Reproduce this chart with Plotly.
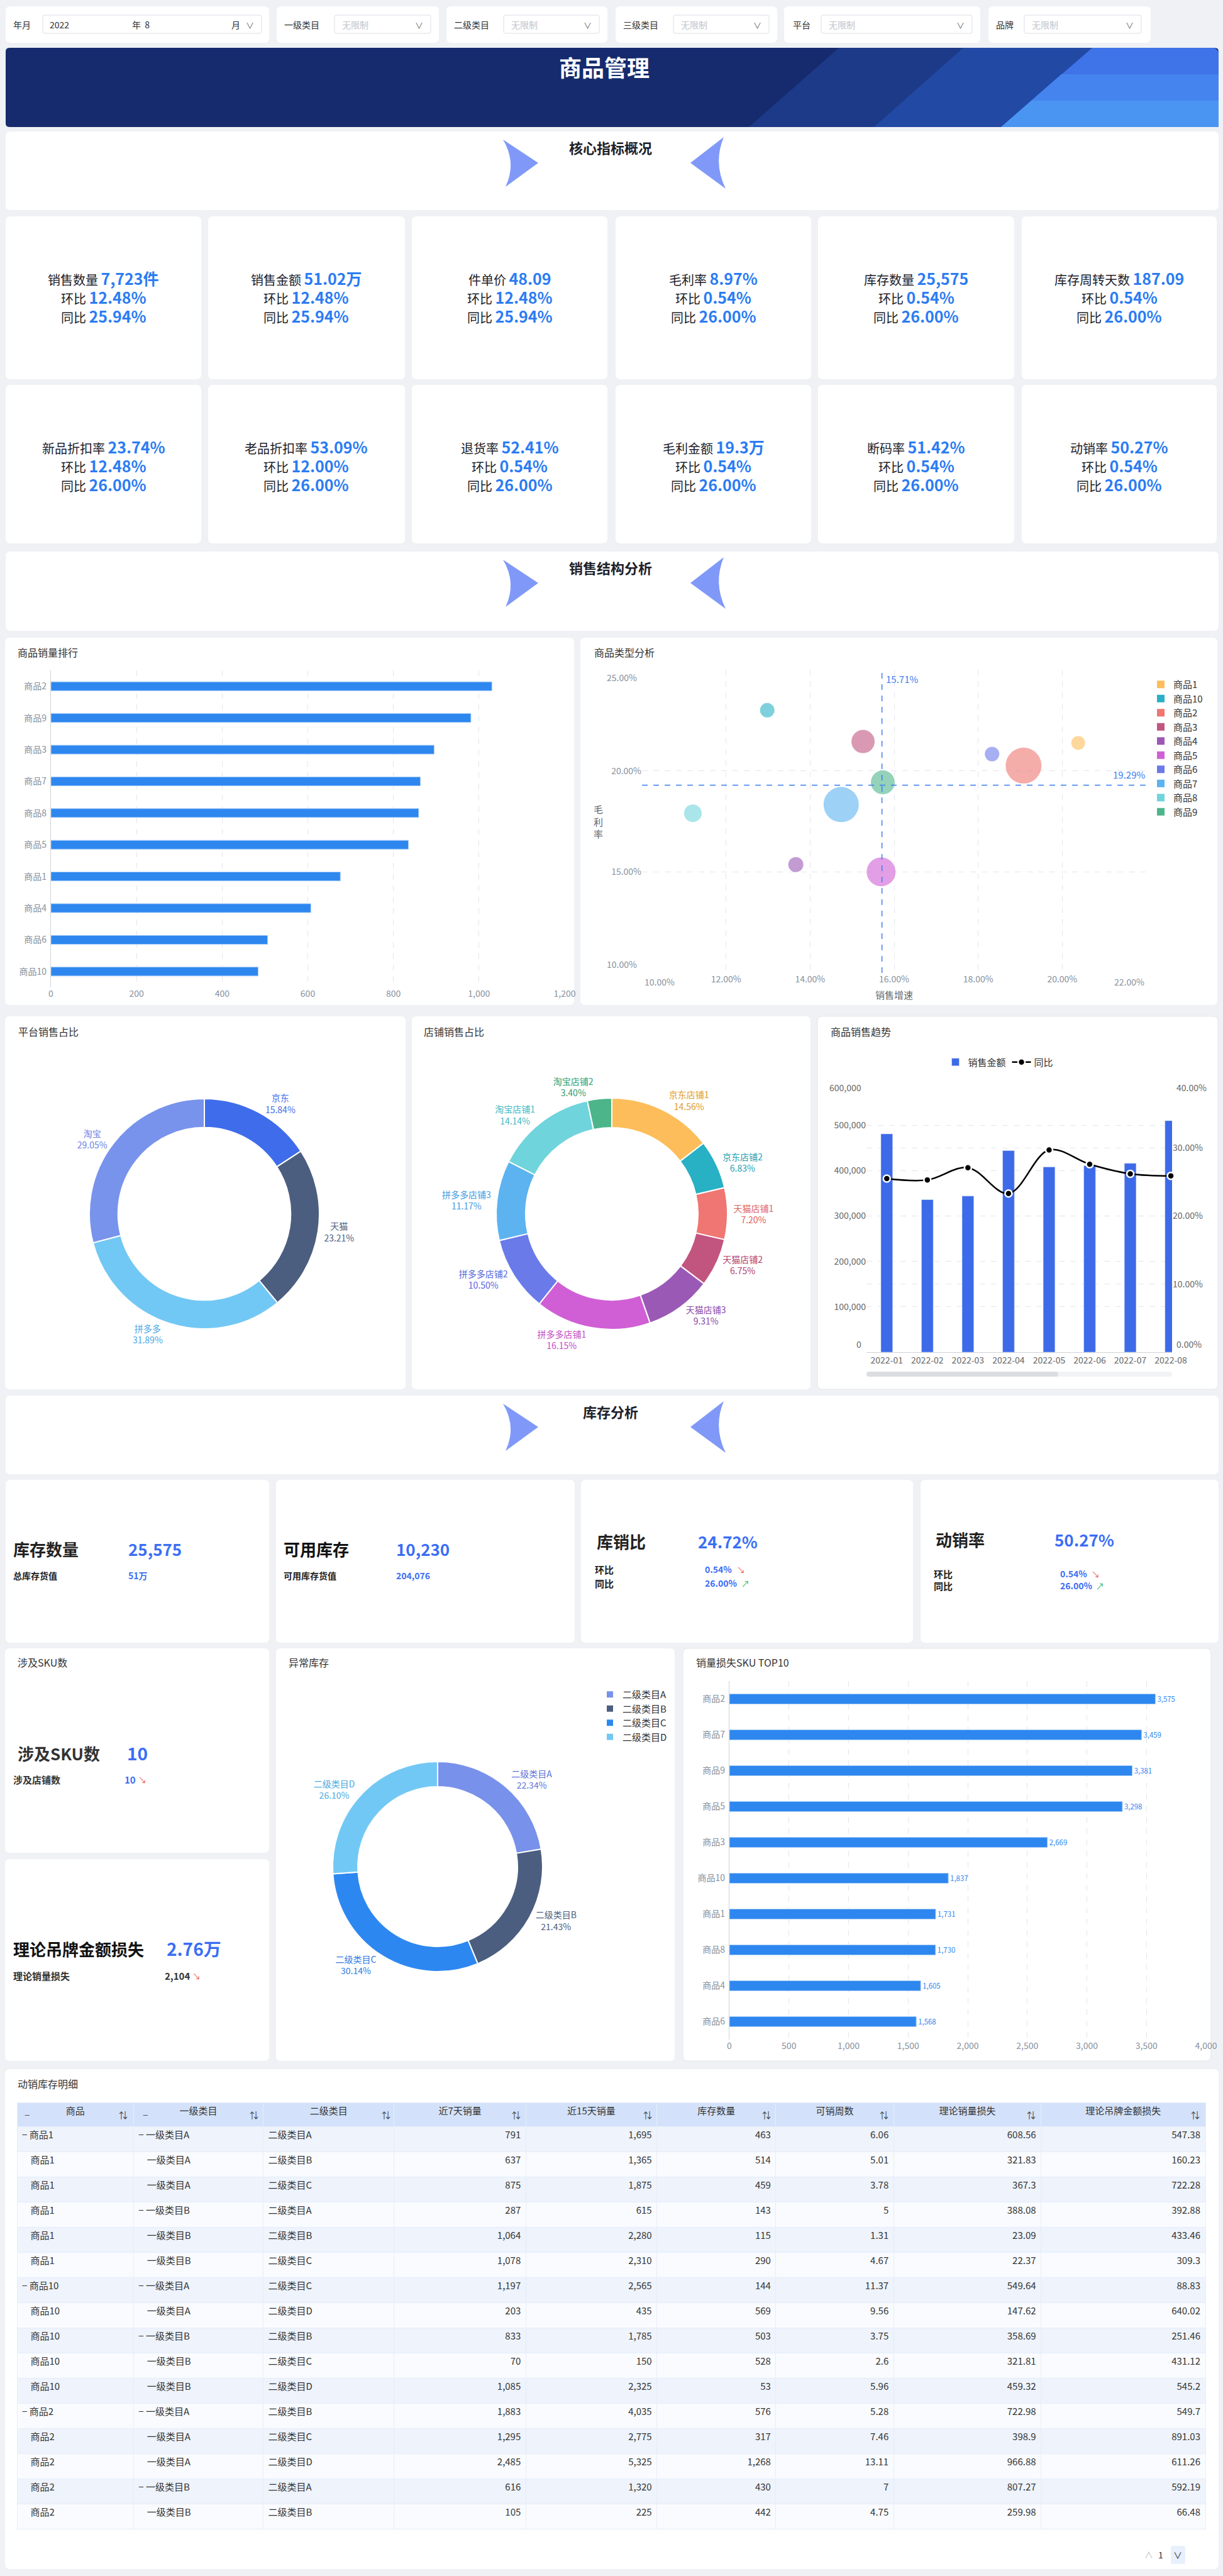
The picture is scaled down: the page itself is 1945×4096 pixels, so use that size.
import plotly.graph_objects as go

W, H = 1945, 4096
FONT = "Noto Sans CJK SC"
BG = "#eff1f5"
DARK = "#1d2129"
BLUE = "#2b7cf3"
BLUE2 = "#3b6ef5"
AXT = "#86909c"
GRID = "#e5e6eb"
PAL = ['#fdbd5a', '#28b0c4', '#ef7672', '#c2557f', '#9b59b6', '#d05fd5', '#6a7ae9', '#5cb3f0', '#6fd4db', '#4cb58a']

# ---------------- data ----------------
filter_labels = ["年月", "一级类目", "二级类目", "三级类目", "平台", "品牌"]
filter_placeholder = "无限制"
filter_year = "2022"
filter_month = "8"

kpi_names = ["销售数量", "销售金额", "件单价", "毛利率", "库存数量", "库存周转天数",
             "新品折扣率", "老品折扣率", "退货率", "毛利金额", "断码率", "动销率"]
kpi_values = ["7,723件", "51.02万", "48.09", "8.97%", "25,575", "187.09",
              "23.74%", "53.09%", "52.41%", "19.3万", "51.42%", "50.27%"]
kpi_mom = ["12.48%", "12.48%", "12.48%", "0.54%", "0.54%", "0.54%",
           "12.48%", "12.00%", "0.54%", "0.54%", "0.54%", "0.54%"]
kpi_yoy = ["25.94%", "25.94%", "25.94%", "26.00%", "26.00%", "26.00%",
           "26.00%", "26.00%", "26.00%", "26.00%", "26.00%", "26.00%"]

rank_products = ["商品2", "商品9", "商品3", "商品7", "商品8", "商品5", "商品1", "商品4", "商品6", "商品10"]
rank_sales = [1030, 981, 895, 863, 859, 835, 676, 607, 506, 484]
rank_ticks = [0, 200, 400, 600, 800, 1000, 1200]

bubble_products = ["商品1", "商品10", "商品2", "商品3", "商品4", "商品5", "商品6", "商品7", "商品8", "商品9"]
bubble_growth = [20.38, 12.98, 19.08, 15.26, 13.66, 15.69, 18.33, 14.74, 11.21, 15.73]
bubble_margin = [21.38, 23.00, 20.26, 21.45, 15.36, 15.00, 20.83, 18.33, 17.90, 19.43]
bubble_weight = [22, 23, 57, 37, 24, 46, 23, 56, 28, 38]
avg_growth = 15.71
avg_margin = 19.29
growth_ticks = [10, 12, 14, 16, 18, 20, 22]
margin_ticks = [10, 15, 20, 25]

platforms = ["京东", "天猫", "拼多多", "淘宝"]
platform_share = [15.84, 23.21, 31.89, 29.05]

shops = ["京东店铺1", "京东店铺2", "天猫店铺1", "天猫店铺2", "天猫店铺3",
         "拼多多店铺1", "拼多多店铺2", "拼多多店铺3", "淘宝店铺1", "淘宝店铺2"]
shop_share = [14.56, 6.83, 7.20, 6.75, 9.31, 16.15, 10.50, 11.17, 14.14, 3.40]

months = ["2022-01", "2022-02", "2022-03", "2022-04", "2022-05", "2022-06", "2022-07", "2022-08"]
month_sales = [481000, 336000, 344000, 444000, 408000, 411000, 416000, 510000]
month_yoy = [25.5, 25.3, 27.1, 23.3, 29.7, 27.6, 26.2, 25.9]
sales_ticks = [0, 100000, 200000, 300000, 400000, 500000, 600000]
yoy_ticks = [0, 10, 20, 30, 40]

abnormal_cats = ["二级类目A", "二级类目B", "二级类目C", "二级类目D"]
abnormal_share = [22.34, 21.43, 30.14, 26.10]

loss_products = ["商品2", "商品7", "商品9", "商品5", "商品3", "商品10", "商品1", "商品8", "商品4", "商品6"]
loss_qty = [3575, 3459, 3381, 3298, 2669, 1837, 1731, 1730, 1605, 1568]

tbl_headers = ["商品", "一级类目", "二级类目", "近7天销量", "近15天销量", "库存数量", "可销周数", "理论销量损失", "理论吊牌金额损失"]
tbl_product = ["商品1", "商品1", "商品1", "商品1", "商品1", "商品1", "商品10", "商品10", "商品10", "商品10", "商品10",
               "商品2", "商品2", "商品2", "商品2", "商品2"]
tbl_cat1 = ["一级类目A", "一级类目A", "一级类目A", "一级类目B", "一级类目B", "一级类目B", "一级类目A", "一级类目A",
            "一级类目B", "一级类目B", "一级类目B", "一级类目A", "一级类目A", "一级类目A", "一级类目B", "一级类目B"]
tbl_cat2 = ["二级类目A", "二级类目B", "二级类目C", "二级类目A", "二级类目B", "二级类目C", "二级类目C", "二级类目D",
            "二级类目B", "二级类目C", "二级类目D", "二级类目B", "二级类目C", "二级类目D", "二级类目A", "二级类目B"]
tbl_7d = [791, 637, 875, 287, 1064, 1078, 1197, 203, 833, 70, 1085, 1883, 1295, 2485, 616, 105]
tbl_15d = [1695, 1365, 1875, 615, 2280, 2310, 2565, 435, 1785, 150, 2325, 4035, 2775, 5325, 1320, 225]
tbl_stock = [463, 514, 459, 143, 115, 290, 144, 569, 503, 528, 53, 576, 317, 1268, 430, 442]
tbl_weeks = [6.06, 5.01, 3.78, 5, 1.31, 4.67, 11.37, 9.56, 3.75, 2.6, 5.96, 5.28, 7.46, 13.11, 7, 4.75]
tbl_loss_qty = [608.56, 321.83, 367.3, 388.08, 23.09, 22.37, 549.64, 147.62, 358.69, 321.81, 459.32, 722.98, 398.9, 966.88, 807.27, 259.98]
tbl_loss_amt = [547.38, 160.23, 722.28, 392.88, 433.46, 309.3, 88.83, 640.02, 251.46, 431.12, 545.2, 549.7, 891.03, 611.26, 592.19, 66.48]
tbl_product_group_rows = [0, 6, 11]
tbl_cat1_group_rows = [0, 3, 6, 8, 11, 14]


# ---------------- helpers ----------------
def fx(p):
    return p / W


def fy(p):
    return 1 - p / H


def pt(x, y):
    return f"{fx(x):.6f},{fy(y):.6f}"


shapes = []
annotations = []


def card(x0, y0, x1, y1, r=8, fill="white", line=None, layer="below"):
    path = (f"M{pt(x0 + r, y0)} L{pt(x1 - r, y0)} Q{pt(x1, y0)} {pt(x1, y0 + r)} "
            f"L{pt(x1, y1 - r)} Q{pt(x1, y1)} {pt(x1 - r, y1)} L{pt(x0 + r, y1)} "
            f"Q{pt(x0, y1)} {pt(x0, y1 - r)} L{pt(x0, y0 + r)} Q{pt(x0, y0)} {pt(x0 + r, y0)} Z")
    shapes.append(dict(type="path", xref="paper", yref="paper", path=path, fillcolor=fill,
                       line=dict(width=1 if line else 0, color=line or fill), layer=layer))


def poly(points, fill):
    path = "M" + " L".join(pt(x, y) for x, y in points) + " Z"
    shapes.append(dict(type="path", xref="paper", yref="paper", path=path, fillcolor=fill,
                       line=dict(width=0), layer="below"))


def rawpath(path, fill):
    shapes.append(dict(type="path", xref="paper", yref="paper", path=path, fillcolor=fill,
                       line=dict(width=0), layer="below"))


def text(x, y, s, size=14, color=DARK, anchor="left", bold=False, yanchor="middle"):
    if bold:
        s = f"<b>{s}</b>"
    annotations.append(dict(x=fx(x), y=fy(y), xref="paper", yref="paper", text=s, showarrow=False,
                            xanchor=anchor, yanchor=yanchor,
                            font=dict(family=FONT, size=size, color=color)))


def section(y0, y1, title):
    card(9, y0, 1938, y1)
    text(971, y0 + 25, title, 22, DARK, "center", True)
    rawpath(f"M{pt(800, y0 + 13)} L{pt(856, y0 + 50)} L{pt(804, y0 + 88)} Q{pt(822, y0 + 50)} {pt(800, y0 + 13)} Z",
            "#8099f8")
    rawpath(f"M{pt(1151, y0 + 9)} L{pt(1098, y0 + 50)} L{pt(1154, y0 + 91)} Q{pt(1134, y0 + 50)} {pt(1151, y0 + 9)} Z",
            "#8099f8")


# ---------------- filter bar ----------------
filter_cards = [(9, 428, 19, 68, 416), (440, 698, 450, 532, 685), (710, 966, 720, 801, 953),
                (979, 1236, 989, 1071, 1223), (1247, 1559, 1259, 1306, 1546), (1572, 1830, 1582, 1629, 1815)]
for i, (cx0, cx1, lx, bx0, bx1) in enumerate(filter_cards):
    card(cx0, 10, cx1, 68)
    card(bx0, 24, bx1, 53, r=3, fill="white", line="#dcdfe6")
    text(lx, 39, filter_labels[i], 14, "#303133")
    text(bx1 - 10, 39, "∨", 13, "#606266", "right")
    if i == 0:
        text(bx0 + 9, 39, filter_year, 14, "#303133")
        text(208, 39, "年  " + filter_month, 14, "#303133")
        text(366, 39, "月", 14, "#303133")
    else:
        text(bx0 + 10, 39, filter_placeholder, 14, "#c0c4cc")

# ---------------- banner ----------------
card(9, 76, 1938, 202, r=6, fill="#152b6d")
poly([(1191, 202), (1334, 76), (1932, 76), (1938, 82), (1938, 202)], "#1c3a87")
poly([(1390, 202), (1532, 76), (1932, 76), (1938, 82), (1938, 202)], "#2249a3")
poly([(1592, 202), (1737, 76), (1932, 76), (1938, 82), (1938, 202)], "#3f73e8")
poly([(1640, 160), (1688, 118), (1938, 118), (1938, 160)], "#4584ee")
poly([(1592, 202), (1640, 160), (1938, 160), (1938, 202)], "#4a95f2")
text(961, 106, "商品管理", 36, "white", "center", True)

# ---------------- section 1: KPIs ----------------
section(209, 334, "核心指标概况")
kpi_cols = [(9, 320), (331, 644), (655, 966), (979, 1290), (1301, 1613), (1625, 1935)]


def kline(lbl, val):
    return (f"<span style='font-size:20px;color:{DARK}'>{lbl}</span> "
            f"<span style='font-size:25px;color:{BLUE}'><b>{val}</b></span>")


for k in range(12):
    row = k // 6
    x0, x1 = kpi_cols[k % 6]
    y0, y1 = (344, 603) if row == 0 else (612, 864)
    card(x0, y0, x1, y1)
    cx = (x0 + x1) / 2
    text(cx, y0 + 98, kline(kpi_names[k], kpi_values[k]), 20, DARK, "center")
    text(cx, y0 + 128, kline("环比", kpi_mom[k]), 20, DARK, "center")
    text(cx, y0 + 158, kline("同比", kpi_yoy[k]), 20, DARK, "center")

# ---------------- section 2: sales structure ----------------
section(877, 1003, "销售结构分析")

card(8, 1014, 913, 1598)
text(26, 1037, "商品销量排行", 16, "#333")
card(923, 1014, 1936, 1598)
text(943, 1037, "商品类型分析", 16, "#333")
card(8, 1616, 645, 2209)
text(27, 1640, "平台销售占比", 16, "#333")
card(655, 1616, 1289, 2209)
text(672, 1640, "店铺销售占比", 16, "#333")
card(1300, 1616, 1937, 2209, line="#e3e5ea")
text(1319, 1640, "商品销售趋势", 16, "#333")

# ---------------- section 3: inventory ----------------
section(2219, 2344, "库存分析")
inv_cards = [(9, 428), (439, 914), (924, 1452), (1464, 1938)]
for x0, x1 in inv_cards:
    card(x0, 2353, x1, 2612)

text(19, 2462, "库存数量", 26, "#222", bold=True)
text(202, 2462, "25,575", 26, BLUE2, bold=True)
text(19, 2505, "总库存货值", 14, "#222", bold=True)
text(202, 2505, "51万", 14, BLUE2, bold=True)

text(449, 2462, "可用库存", 26, "#111", bold=True)
text(628, 2462, "10,230", 26, BLUE2, bold=True)
text(449, 2505, "可用库存货值", 14, "#222", bold=True)
text(628, 2505, "204,076", 14, BLUE2, bold=True)

text(947, 2450, "库销比", 26, "#222", bold=True)
text(1108, 2450, "24.72%", 26, BLUE2, bold=True)
text(944, 2495, "环比", 15, "#222", bold=True)
text(1119, 2495, "0.54%", 14, BLUE2, bold=True)
text(1170, 2495, "↘", 13, "#f04b4b")
text(944, 2517, "同比", 15, "#222", bold=True)
text(1119, 2517, "26.00%", 14, BLUE2, bold=True)
text(1177, 2517, "↗", 13, "#2fb15b")

text(1486, 2447, "动销率", 26, "#222", bold=True)
text(1675, 2447, "50.27%", 26, BLUE2, bold=True)
text(1483, 2502, "环比", 15, "#222", bold=True)
text(1684, 2502, "0.54%", 14, BLUE2, bold=True)
text(1734, 2502, "↘", 13, "#f04b4b")
text(1483, 2521, "同比", 15, "#222", bold=True)
text(1684, 2521, "26.00%", 14, BLUE2, bold=True)
text(1741, 2521, "↗", 13, "#2fb15b")

card(8, 2621, 428, 2946)
text(26, 2643, "涉及SKU数", 16, "#333")
text(26, 2787, "涉及SKU数", 26, "#333", bold=True)
text(200, 2787, "10", 28, BLUE2, bold=True)
text(19, 2829, "涉及店铺数", 15, "#333", bold=True)
text(196, 2829, "10", 15, BLUE2, bold=True)
text(218, 2829, "↘", 13, "#f04b4b")

card(8, 2956, 428, 3277)
text(19, 3098, "理论吊牌金额损失", 26, "#111", bold=True)
text(263, 3098, "2.76万", 28, BLUE2, bold=True)
text(19, 3141, "理论销量损失", 15, "#333", bold=True)
text(260, 3141, "2,104", 15, "#333", bold=True)
text(304, 3141, "↘", 13, "#f04b4b")

card(439, 2621, 1073, 3277)
text(457, 2643, "异常库存", 16, "#333")
card(1086, 2621, 1926, 3277, line="#e3e5ea")
text(1105, 2643, "销量损失SKU TOP10", 16, "#333")

card(8, 3290, 1938, 4085)
text(26, 3313, "动销库存明细", 16, "#333")

# trend chart scrollbar
card(1378, 2181, 1864, 2189, r=4, fill="#f2f3f5")
card(1378, 2181, 1683, 2189, r=4, fill="#dcdde1")

# ---------------- traces ----------------
fig = go.Figure()

fig.add_trace(go.Bar(x=rank_sales, y=rank_products, orientation="h", width=0.28,
                     marker=dict(color="#2e87ef", line=dict(color="#a9cdf7", width=1)),
                     xaxis="x", yaxis="y", showlegend=False, hoverinfo="skip"))

fig.add_trace(go.Scatter(x=bubble_growth, y=bubble_margin, mode="markers",
                         marker=dict(size=bubble_weight, sizemode="diameter", sizeref=1,
                                     color=PAL, opacity=0.6, line=dict(width=0)),
                         xaxis="x2", yaxis="y2", showlegend=False, hoverinfo="skip"))
for name, col in zip(bubble_products, PAL):
    fig.add_trace(go.Scatter(x=[None], y=[None], mode="markers", name=name,
                             marker=dict(symbol="square", size=15, color=col),
                             xaxis="x2", yaxis="y2", legend="legend", showlegend=True))

fig.add_trace(go.Pie(labels=platforms, values=platform_share, hole=0.75, sort=False,
                     direction="clockwise", rotation=0,
                     marker=dict(colors=["#3f6ceb", "#4b5e7f", "#72c8f4", "#7893eb"],
                                 line=dict(color="white", width=2)),
                     textposition="outside", texttemplate="%{label}<br>%{value:.2f}%",
                     textfont=dict(family=FONT, size=14,
                                   color=["#3f6ceb", "#4b5e7f", "#4aa8e8", "#6a82e6"]),
                     domain=dict(x=[fx(142), fx(508)], y=[fy(2113), fy(1747)]),
                     showlegend=False, hoverinfo="skip", automargin=False))

shop_text = ['#e09a2a', '#1f9fb3', '#e0605d', '#b23f6d', '#8a48a8', '#c24cc8', '#5566dd', '#3f9be0', '#3fb9c2', '#2f9d6d']
fig.add_trace(go.Pie(labels=shops, values=shop_share, hole=0.745, sort=False,
                     direction="clockwise", rotation=0,
                     marker=dict(colors=PAL, line=dict(color="white", width=2)),
                     textposition="outside", texttemplate="%{label}<br>%{value:.2f}%",
                     textfont=dict(family=FONT, size=14, color=shop_text),
                     domain=dict(x=[fx(789), fx(1157)], y=[fy(2114), fy(1746)]),
                     showlegend=False, hoverinfo="skip", automargin=False))

fig.add_trace(go.Bar(x=months, y=month_sales, name="销售金额", width=0.29,
                     marker=dict(color="#3d6ae8"), xaxis="x3", yaxis="y3",
                     legend="legend2", hoverinfo="skip", cliponaxis=True))
fig.add_trace(go.Scatter(x=months, y=month_yoy, name="同比", mode="lines+markers",
                         line=dict(color="black", width=2.5, shape="spline"),
                         marker=dict(size=11, color="black", line=dict(color="white", width=2.5)),
                         xaxis="x3", yaxis="y4", legend="legend2", hoverinfo="skip", cliponaxis=False))

fig.add_trace(go.Pie(labels=abnormal_cats, values=abnormal_share, hole=0.76, sort=False,
                     direction="clockwise", rotation=0,
                     marker=dict(colors=["#7891ea", "#4b5e7f", "#2d87f0", "#72c8f4"],
                                 line=dict(color="white", width=2)),
                     textposition="outside", texttemplate="%{label}<br>%{value:.2f}%",
                     textfont=dict(family=FONT, size=14, color=["#5a73d8", "#4b5e7f", "#2d7ae0", "#4aa8e0"]),
                     domain=dict(x=[fx(529), fx(863)], y=[fy(3135), fy(2801)]),
                     legend="legend3", showlegend=True, hoverinfo="skip", automargin=False))

fig.add_trace(go.Bar(x=loss_qty, y=loss_products, orientation="h", width=0.28,
                     marker=dict(color="#2e87ef", line=dict(color="#a9cdf7", width=1)),
                     texttemplate="%{x:,}", textposition="outside",
                     textfont=dict(family=FONT, size=15, color="#2e87ef"), cliponaxis=False,
                     xaxis="x5", yaxis="y5", showlegend=False, hoverinfo="skip"))


def mark(vals, rows):
    return [("− " + v) if i in rows else ("\u00a0\u00a0\u00a0\u00a0" + v) for i, v in enumerate(vals)]


nrows = len(tbl_product)
row_fill = ["#eef3fc" if i % 2 == 0 else "#f9fbfe" for i in range(nrows)]
fig.add_trace(go.Table(
    domain=dict(x=[fx(27), fx(1917)], y=[fy(4040), fy(3343)]),
    columnwidth=[185, 206, 208, 209, 208, 189, 187, 234, 261],
    header=dict(values=tbl_headers, height=38, fill_color="#d3e2fa", line_color="#e6eefb",
                align="center", font=dict(family=FONT, size=15, color="#333")),
    cells=dict(values=[mark(tbl_product, tbl_product_group_rows), mark(tbl_cat1, tbl_cat1_group_rows),
                       tbl_cat2, tbl_7d, tbl_15d, tbl_stock, tbl_weeks, tbl_loss_qty, tbl_loss_amt],
               format=[None, None, None, ",", ",", ",", None, None, None],
               height=40, fill_color=[row_fill] * 9, line_color="#e6eefb",
               align=["left", "left", "left", "right", "right", "right", "right", "right", "right"],
               font=dict(family=FONT, size=15, color="#333"))))

for hx in [43, 231]:
    text(hx, 3362, "−", 15, "#555", "center")
for ix in [196, 404, 614, 821, 1030, 1219, 1406, 1640, 1901]:
    text(ix, 3362, "⇅", 14, "#444", "center")

text(1827, 4062, "∧", 14, "#c0c4cc", "center")
text(1846, 4062, "1", 14, "#333", "center")
card(1862, 4048, 1885, 4077, r=3, fill="#e8f0fd")
text(1873, 4062, "∨", 14, "#333", "center")

# scatter reference lines
shapes.append(dict(type="line", xref="x2", yref="y2", x0=avg_growth, x1=avg_growth, y0=10, y1=25,
                   line=dict(color="#3a7ef0", width=1.5, dash="dash")))
shapes.append(dict(type="line", xref="x2", yref="y2", x0=10, x1=22, y0=avg_margin, y1=avg_margin,
                   line=dict(color="#3a7ef0", width=1.5, dash="dash")))
annotations.append(dict(x=avg_growth, y=25, xref="x2", yref="y2", text=f"{avg_growth:.2f}%",
                        showarrow=False, xanchor="left", yanchor="top", xshift=4, yshift=-2,
                        font=dict(family=FONT, size=15, color="#3a7ef0")))
annotations.append(dict(x=22, y=avg_margin, xref="x2", yref="y2", text=f"{avg_margin:.2f}%",
                        showarrow=False, xanchor="right", yanchor="bottom", yshift=4,
                        font=dict(family=FONT, size=15, color="#3a7ef0")))
text(1422, 1581, "销售增速", 15, "#666", "center")
text(951, 1306, "毛<br>利<br>率", 15, "#666", "center")

# end tick labels nudged inward (as the original chart library does)
text(1049, 1561, f"{growth_ticks[0]:.2f}%", 14, AXT, "center")
text(1796, 1561, f"{growth_ticks[-1]:.2f}%", 14, AXT, "center")
text(1015, 1077, f"{margin_ticks[-1]:.2f}%", 14, AXT, "right")
text(1015, 1533, f"{margin_ticks[0]:.2f}%", 14, AXT, "right")
text(1372, 2137, f"{sales_ticks[0]:,}", 14, "#666", "right")
text(1372, 1729, f"{sales_ticks[-1]:,}", 14, "#666", "right")
text(1869, 2137, f"{yoy_ticks[0]:.2f}%", 14, "#666", "left")
text(1869, 1729, f"{yoy_ticks[-1]:.2f}%", 14, "#666", "left")

tickf = dict(family=FONT, size=14, color=AXT)
tickf2 = dict(family=FONT, size=14, color="#666")


def ends_blank(vals, fmt):
    return ["" if i in (0, len(vals) - 1) else fmt(v) for i, v in enumerate(vals)]


fig.update_layout(
    width=W, height=H, margin=dict(l=0, r=0, t=0, b=0, pad=0, autoexpand=False),
    paper_bgcolor=BG, plot_bgcolor="rgba(0,0,0,0)",
    font=dict(family=FONT, color="#333"),
    shapes=shapes, annotations=annotations,
    xaxis=dict(domain=[fx(81), fx(898)], anchor="y", range=[0, 1200], tickvals=rank_ticks,
               ticktext=[f"{v:,}" for v in rank_ticks], automargin=False,
               showgrid=True, gridcolor=GRID, griddash="dash", zeroline=False, showline=False,
               tickfont=tickf, ticks=""),
    yaxis=dict(domain=[fy(1570), fy(1066)], anchor="x", categoryorder="array", categoryarray=rank_products,
               autorange="reversed", showline=True, linecolor="#cfd2d8", showgrid=False, automargin=False,
               tickfont=tickf, ticks="", ticksuffix=" "),
    xaxis2=dict(domain=[fx(1021), fx(1823)], anchor="y2", range=[10, 22], tickvals=growth_ticks,
                ticktext=ends_blank(growth_ticks, lambda v: f"{v:.2f}%"), automargin=False,
                showgrid=True, gridcolor=GRID, griddash="dash", zeroline=False,
                showline=False, tickfont=tickf, ticks=""),
    yaxis2=dict(domain=[fy(1547), fy(1065)], anchor="x2", range=[10, 25], tickvals=margin_ticks,
                ticktext=ends_blank(margin_ticks, lambda v: f"{v:.2f}%"), automargin=False,
                showgrid=True, gridcolor=GRID, griddash="dash", zeroline=False,
                showline=False, tickfont=tickf, ticks="", ticksuffix=" "),
    xaxis3=dict(domain=[fx(1378), fx(1864)], anchor="y3", type="category", range=[-0.5, 7.03],
                showline=True, linecolor="#cfd2d8", showgrid=False, tickfont=tickf2, automargin=False,
                ticks=""),
    yaxis3=dict(domain=[fy(2150), fy(1717)], anchor="x3", range=[0, 600000], tickvals=sales_ticks,
                ticktext=ends_blank(sales_ticks, lambda v: f"{v:,}"), automargin=False,
                showgrid=True, gridcolor=GRID, griddash="dash", zeroline=False, tickfont=tickf2,
                ticks="", ticksuffix=" "),
    yaxis4=dict(domain=[fy(2150), fy(1717)], anchor="x3", overlaying="y3", side="right", range=[0, 40],
                tickvals=yoy_ticks, ticktext=ends_blank(yoy_ticks, lambda v: f"{v:.2f}%"), automargin=False,
                showgrid=True, gridcolor=GRID, griddash="dash",
                zeroline=False, tickfont=tickf2, ticks="", tickprefix=" "),
    xaxis5=dict(domain=[fx(1160), fx(1918)], anchor="y5", range=[0, 4000], dtick=500, tickformat=",",
                showgrid=True, gridcolor=GRID, griddash="dash", zeroline=False, showline=False,
                tickfont=tickf, ticks="", automargin=False),
    yaxis5=dict(domain=[fy(3243), fy(2673)], anchor="x5", categoryorder="array", categoryarray=loss_products,
                autorange="reversed", showline=True, linecolor="#cfd2d8", showgrid=False,
                tickfont=tickf, ticks="", ticksuffix=" ", automargin=False),
    legend=dict(x=fx(1826), y=fy(1072), xanchor="left", yanchor="top", bgcolor="rgba(0,0,0,0)",
                font=dict(family=FONT, size=15, color="#333"), itemsizing="constant", tracegroupgap=0,
                itemwidth=30),
    legend2=dict(x=fx(1590), y=fy(1689), xanchor="center", yanchor="middle", orientation="h",
                 bgcolor="rgba(0,0,0,0)", font=dict(family=FONT, size=15, color="#333"), itemwidth=30),
    legend3=dict(x=fx(950), y=fy(2678), xanchor="left", yanchor="top", bgcolor="rgba(0,0,0,0)",
                 font=dict(family=FONT, size=15, color="#333"), itemwidth=30, tracegroupgap=0),
)

fig.write_html("out.html", config={"displayModeBar": False},
               post_script="document.body.style.margin='0px';document.body.style.overflow='hidden';")
